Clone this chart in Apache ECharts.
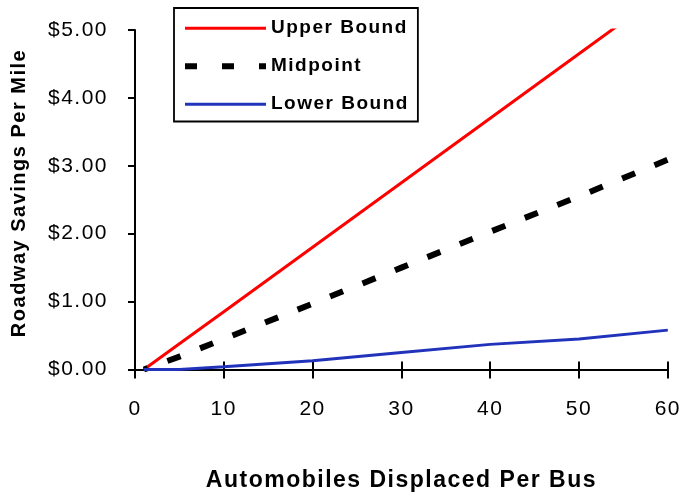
<!DOCTYPE html>
<html><head><meta charset="utf-8">
<script src="https://cdn.jsdelivr.net/npm/echarts@6/dist/echarts.min.js"></script>
<style>html,body{margin:0;padding:0;background:#fff}#c{width:684px;height:498px}</style>
</head><body><div id="c"></div>
<script>
const cars = [1, 5, 10, 20, 30, 40, 50, 60];
const upperBound = [0, 0.38, 0.85, 1.80, 2.75, 3.70, 4.65, 5.60];
const midpoint = [0, 0.19, 0.45, 0.97, 1.50, 2.03, 2.55, 3.09];
const lowerBound = [0, 0, 0.04, 0.13, 0.25, 0.37, 0.45, 0.58];
const xTicks = [0, 10, 20, 30, 40, 50, 60];
const yTicks = [0, 1, 2, 3, 4, 5];
const seriesNames = ['Upper Bound', 'Midpoint', 'Lower Bound'];
const xTitle = 'Automobiles Displaced Per Bus';
const yTitle = 'Roadway Savings Per Mile';

// slightly widened letter spacing, as in the original rendering
(function () {
  const P = CanvasRenderingContext2D.prototype;
  ['fillText', 'strokeText', 'measureText'].forEach(fn => {
    const orig = P[fn];
    P[fn] = function () { if ('letterSpacing' in this) this.letterSpacing = '1.5px'; return orig.apply(this, arguments); };
  });
})();

const pair = (xs, ys) => xs.map((x, i) => [x, ys[i]]);
const font = 'Liberation Sans, Arial, sans-serif';
const chart = echarts.init(document.getElementById('c'), null, {renderer: 'canvas'});
chart.setOption({
  animation: false,
  backgroundColor: '#fff',
  grid: {left: 135, right: 16, top: 30, bottom: 126, containLabel: false},
  legend: {
    orient: 'vertical', left: 174, top: 8,
    borderColor: '#000', borderWidth: 1.8,
    padding: [10, 9, 7, 8], itemGap: 17.5,
    itemWidth: 81, itemHeight: 20,
    itemStyle: {opacity: 0},
    textStyle: {fontFamily: font, fontWeight: 'bold', fontSize: 19, color: '#000'},
    data: [
      {name: seriesNames[0], lineStyle: {width: 3}},
      {name: seriesNames[1], lineStyle: {type: [12, 25], width: 6, dashOffset: 0}},
      {name: seriesNames[2], lineStyle: {width: 3}}
    ]
  },
  graphic: [{
    type: 'text', x: 19, y: 193, rotation: Math.PI / 2,
    style: {text: yTitle, fontFamily: font, fontWeight: 'bold', fontSize: 20, fill: '#000',
      align: 'center', verticalAlign: 'middle'}
  }],
  xAxis: [{
    type: 'value', min: xTicks[0], max: xTicks[xTicks.length - 1], interval: 10,
    name: xTitle, nameLocation: 'middle', nameGap: 99,
    nameTextStyle: {fontFamily: font, fontWeight: 'bold', fontSize: 23, color: '#000'},
    axisLine: {show: true, lineStyle: {color: '#000', width: 2}},
    axisTick: {show: true, length: 9, lineStyle: {color: '#000', width: 2}},
    axisLabel: {fontFamily: font, fontSize: 21, color: '#000', margin: 28},
    splitLine: {show: false}
  }, {
    type: 'value', min: xTicks[0], max: xTicks[xTicks.length - 1], interval: 10, position: 'bottom',
    axisLine: {show: false},
    axisTick: {show: true, inside: true, length: 8, lineStyle: {color: '#000', width: 2}},
    axisLabel: {show: false}, splitLine: {show: false}
  }],
  yAxis: {
    type: 'value', min: yTicks[0], max: yTicks[yTicks.length - 1], interval: 1,
    axisLine: {show: true, lineStyle: {color: '#000', width: 2}},
    axisTick: {show: true, length: 7, lineStyle: {color: '#000', width: 2}},
    axisLabel: {fontFamily: font, fontSize: 21, color: '#000', margin: 27,
      formatter: v => '$' + v.toFixed(2)},
    splitLine: {show: false}
  },
  series: [
    {name: seriesNames[0], type: 'line', data: pair(cars, upperBound), symbol: 'none', clip: true,
      lineStyle: {color: '#ff0000', width: 3}, itemStyle: {color: '#ff0000'}},
    {name: seriesNames[1], type: 'line', data: pair(cars, midpoint), symbol: 'none', clip: true,
      lineStyle: {color: '#000', width: 6, type: [14, 21], dashOffset: 10}, itemStyle: {color: '#000'}},
    {name: seriesNames[2], type: 'line', data: pair(cars, lowerBound), symbol: 'none', clip: true,
      lineStyle: {color: '#2233bb', width: 3}, itemStyle: {color: '#2233bb'}}
  ]
});
</script></body></html>
